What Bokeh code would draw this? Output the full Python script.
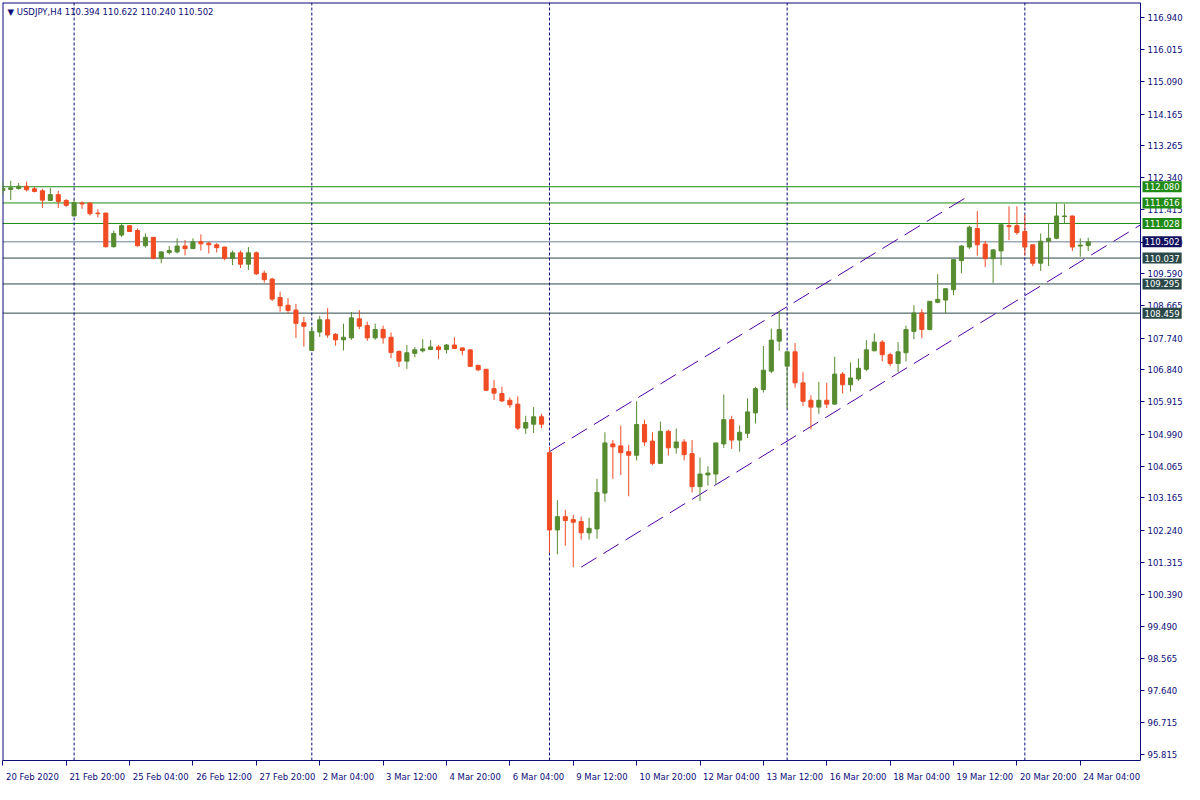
from bokeh.plotting import figure
from bokeh.models import Range1d, FixedTicker, Span, Label, PrintfTickFormatter
from bokeh.embed import file_html
from bokeh.resources import INLINE

symbol = "USDJPY,H4"

opens = [111.975, 112.002, 112.030, 112.095, 112.021, 111.965, 111.688, 111.854, 111.688, 111.243,
         111.613, 111.613, 111.326, 111.326, 110.363, 110.696, 110.965, 110.826, 110.391, 110.631,
         110.029, 110.196, 110.214, 110.381, 110.307, 110.502, 110.465, 110.418, 110.353, 110.029,
         110.187, 109.862, 110.187, 109.603, 109.436, 108.908, 108.685, 108.546, 108.185, 107.389,
         107.917, 108.269, 107.852, 107.694, 107.750, 108.296, 108.102, 107.750, 107.991, 107.768,
         107.361, 107.083, 107.305, 107.379, 107.416, 107.490, 107.416, 107.546, 107.463, 107.407,
         106.962, 106.851, 106.295, 106.156, 105.962, 105.851, 105.165, 105.276, 105.489, 104.461,
         102.247, 102.627, 102.543, 102.488, 102.163, 102.275, 103.303, 104.711, 104.655, 104.489,
         104.387, 105.267, 104.794, 104.155, 105.072, 104.600, 104.767, 104.433, 103.488, 103.822,
         103.849, 104.711, 105.406, 104.822, 105.017, 105.600, 106.268, 106.796, 107.657, 106.940,
         107.351, 106.462, 105.962, 105.767, 105.962, 105.851, 106.712, 106.407, 106.573, 106.851,
         107.379, 107.629, 107.268, 107.018, 107.324, 107.935, 108.463, 107.991, 108.769, 108.834,
         109.131, 109.964, 110.353, 110.882, 110.437, 110.020, 110.242, 110.965, 110.965, 110.798,
         110.418, 109.890, 110.520, 110.604, 111.224, 111.243, 110.381, 110.394]
highs = [112.225, 112.253, 112.188, 112.225, 112.077, 112.021, 112.049, 111.965, 111.725, 111.715,
         111.660, 111.632, 111.437, 111.330, 110.826, 111.020, 110.970, 110.882, 110.742, 110.635,
         110.220, 110.381, 110.604, 110.548, 110.604, 110.715, 110.502, 110.465, 110.360, 110.251,
         110.251, 110.353, 110.224, 109.677, 109.464, 109.075, 108.889, 108.722, 108.352, 108.070,
         108.380, 108.602, 107.889, 108.157, 108.491, 108.546, 108.213, 108.157, 108.102, 107.907,
         107.389, 107.546, 107.490, 107.713, 107.685, 107.546, 107.574, 107.768, 107.470, 107.410,
         106.981, 106.860, 106.545, 106.351, 106.045, 106.073, 105.517, 105.767, 105.573, 104.628,
         103.099, 102.821, 102.682, 102.627, 102.599, 103.710, 105.045, 104.822, 105.239, 104.683,
         105.934, 105.406, 105.045, 105.350, 105.128, 105.156, 104.850, 104.822, 104.322, 104.072,
         104.740, 106.128, 105.517, 105.239, 106.017, 106.350, 107.518, 108.018, 108.519, 107.360,
         107.602, 106.768, 106.101, 106.490, 106.462, 107.212, 106.768, 107.046, 107.157, 107.685,
         107.879, 107.685, 107.324, 107.629, 108.102, 108.685, 108.574, 108.800, 109.575, 109.160,
         110.000, 110.409, 110.965, 111.382, 110.529, 110.298, 111.000, 111.521, 111.521, 111.280,
         110.420, 110.742, 111.020, 111.613, 111.586, 111.250, 110.604, 110.622]
lows = [111.836, 111.697, 111.993, 111.947, 111.919, 111.474, 111.680, 111.474, 111.502, 111.240,
        111.447, 111.252, 111.197, 110.335, 110.335, 110.641, 110.780, 110.363, 110.335, 110.001,
        109.890, 110.140, 110.168, 110.112, 110.300, 110.251, 110.168, 110.196, 109.974, 109.834,
        109.751, 109.696, 109.557, 109.334, 108.806, 108.500, 108.463, 107.750, 107.500, 107.380,
        107.778, 107.750, 107.527, 107.389, 107.694, 108.000, 107.666, 107.694, 107.583, 107.166,
        106.916, 106.860, 107.194, 107.333, 107.410, 107.138, 107.305, 107.440, 107.250, 106.916,
        106.796, 106.240, 105.971, 105.915, 105.749, 105.110, 104.999, 105.026, 105.165, 101.598,
        101.552, 101.793, 101.181, 101.969, 101.969, 101.997, 103.053, 103.710, 103.822, 103.210,
        104.239, 104.655, 104.100, 104.150, 104.378, 104.433, 104.239, 103.321, 103.071, 103.516,
        103.544, 104.600, 104.572, 104.489, 104.878, 105.295, 106.184, 106.740, 107.379, 105.720,
        106.323, 105.795, 105.128, 105.573, 105.740, 105.840, 106.156, 106.212, 106.518, 106.796,
        107.370, 107.074, 106.935, 106.768, 107.074, 107.713, 107.741, 107.963, 108.741, 108.464,
        108.973, 109.603, 110.298, 110.103, 109.779, 109.325, 109.835, 110.548, 110.705, 110.112,
        109.807, 109.668, 109.807, 110.576, 111.020, 110.242, 110.075, 110.240]
closes = [112.030, 112.049, 112.095, 111.993, 111.947, 111.697, 111.854, 111.660, 111.548, 111.623,
          111.586, 111.308, 111.308, 110.363, 110.742, 110.965, 110.798, 110.391, 110.631, 110.029,
          110.214, 110.251, 110.381, 110.307, 110.502, 110.446, 110.418, 110.335, 110.029, 110.187,
          109.862, 110.187, 109.584, 109.418, 108.862, 108.667, 108.537, 108.167, 108.083, 107.935,
          108.269, 107.833, 107.694, 107.768, 108.324, 108.083, 107.750, 107.991, 107.750, 107.333,
          107.083, 107.324, 107.407, 107.435, 107.490, 107.416, 107.546, 107.444, 107.389, 106.935,
          106.833, 106.249, 106.166, 105.943, 105.832, 105.165, 105.323, 105.489, 105.276, 102.247,
          102.627, 102.515, 102.469, 102.163, 102.293, 103.321, 104.739, 104.628, 104.461, 104.387,
          105.267, 104.767, 104.155, 105.072, 104.600, 104.767, 104.405, 103.488, 103.849, 103.877,
          104.739, 105.406, 104.822, 105.045, 105.628, 106.295, 106.823, 107.685, 107.991, 107.351,
          106.462, 105.934, 105.767, 105.962, 105.851, 106.712, 106.407, 106.601, 106.879, 107.407,
          107.629, 107.268, 107.018, 107.351, 107.991, 108.463, 107.991, 108.797, 108.853, 109.158,
          109.992, 110.381, 110.919, 110.418, 110.020, 110.270, 110.993, 110.937, 110.770, 110.353,
          109.890, 110.520, 110.604, 111.243, 111.243, 110.353, 110.409, 110.502]

x_label_bars = [0, 8, 16, 24, 32, 40, 48, 56, 64, 72, 80, 88, 96, 104, 112, 120, 128, 136]
x_labels = ["20 Feb 2020", "21 Feb 20:00", "25 Feb 04:00", "26 Feb 12:00", "27 Feb 20:00",
            "2 Mar 04:00", "3 Mar 12:00", "4 Mar 20:00", "6 Mar 04:00", "9 Mar 12:00",
            "10 Mar 20:00", "12 Mar 04:00", "13 Mar 12:00", "16 Mar 20:00", "18 Mar 04:00",
            "19 Mar 12:00", "20 Mar 20:00", "24 Mar 04:00"]
week_start_bars = [9, 39, 69, 99, 129]

y_ticks = [116.940, 116.015, 115.090, 114.165, 113.265, 112.340, 111.415, 110.490, 109.590,
           108.665, 107.740, 106.840, 105.915, 104.990, 104.065, 103.165, 102.240, 101.315,
           100.390, 99.490, 98.565, 97.640, 96.715, 95.815]

resistance_levels = [112.080, 111.616, 111.028]
support_levels = [110.037, 109.295, 108.459]
bid_price = 110.502

upper_channel_bars = [69, 122]
upper_channel_prices = [104.49, 111.83]
lower_channel_bars = [73, 129]
lower_channel_prices = [101.18, 108.96]

# ---------------- styling ----------------
FONT = "DejaVu Sans"
FS = "8.5px"
NAVY = "#0c0c78"
BULL = "#568b2f"
BEAR = "#f04b23"
RES_COL = "#1f8a14"
SUP_COL = "#2a4848"
BID_COL = "#6a7f94"
BID_BOX = "#10105e"
CHAN_COL = "#5000a8"

W, H = 1184, 784
BL, BT, BR = 2, 2, 0
PLOT_PX = 1138          # width of the chart area (left of the price scale)
X_START, X_PLOT_END = -0.04, 143.6
px_per_bar = PLOT_PX / (X_PLOT_END - X_START)
X_FULL_END = X_PLOT_END + (W - BL - BR - PLOT_PX) / px_per_bar
Y_START, Y_END = 95.64, 117.36

n = len(opens)
idx = list(range(n))
colors = [BULL if c >= o else BEAR for o, c in zip(opens, closes)]
tops = [max(o, c) for o, c in zip(opens, closes)]
bots = [min(o, c) for o, c in zip(opens, closes)]

p = figure(width=W, height=H, output_backend="svg", toolbar_location=None,
           x_range=Range1d(X_START, X_FULL_END), y_range=Range1d(Y_START, Y_END),
           y_axis_location="right", min_border_left=BL, min_border_top=BT,
           min_border_right=BR, min_border_bottom=0)
p.grid.visible = False
p.outline_line_color = None
p.background_fill_color = "white"
p.border_fill_color = "white"

# week separators
for b in week_start_bars:
    p.add_layout(Span(location=b, dimension="height", line_color=NAVY,
                      line_dash="3 2", line_width=1, level="underlay"))
# chart-area border (left, top)
p.segment(x0=[X_START, X_START], y0=[Y_START, Y_END], x1=[X_START, X_PLOT_END], y1=[Y_END, Y_END],
          line_color=NAVY, line_width=2)
# horizontal levels
lv_all = resistance_levels + support_levels + [bid_price]
lv_cols = [RES_COL] * len(resistance_levels) + [SUP_COL] * len(support_levels) + [BID_COL]
p.segment(x0=[X_START] * len(lv_all), y0=lv_all, x1=[X_PLOT_END] * len(lv_all), y1=lv_all,
          line_color=lv_cols, line_width=1, level="underlay")

# channel
p.line(upper_channel_bars, upper_channel_prices, line_color=CHAN_COL, line_width=1, line_dash="18 8")
slope = (lower_channel_prices[1] - lower_channel_prices[0]) / (lower_channel_bars[1] - lower_channel_bars[0])
low_end = lower_channel_prices[0] + slope * (X_PLOT_END - lower_channel_bars[0])
p.line([lower_channel_bars[0], X_PLOT_END], [lower_channel_prices[0], low_end],
       line_color=CHAN_COL, line_width=1, line_dash="18 8")

# candles
p.segment(x0=idx, y0=lows, x1=idx, y1=highs, line_color=colors, line_width=1)
p.vbar(x=idx, width=0.52, top=tops, bottom=bots, fill_color=colors, line_color=colors, line_width=1)

# price scale, drawn at the right edge of the chart area
ax = p.yaxis[0]
ax.fixed_location = X_PLOT_END
ax.ticker = FixedTicker(ticks=y_ticks)
ax.formatter = PrintfTickFormatter(format="%.3f")
ax.major_tick_out = 4
ax.major_tick_in = 0
ax.minor_tick_out = 0
ax.minor_tick_in = 0
ax.major_tick_line_color = NAVY
ax.axis_line_color = NAVY
ax.major_label_text_color = NAVY
ax.major_label_text_font = FONT
ax.major_label_text_font_size = FS
ax.major_label_standoff = 3

# time scale: labels left-aligned after their tick (minor ticks mark the true bar)
widths = {"0": .636, "1": .636, "2": .636, "3": .636, "4": .636, "5": .636, "6": .636, "7": .636,
          "8": .636, "9": .636, " ": .318, ":": .337, "F": .575, "e": .615, "b": .635, "M": .863,
          "a": .613, "r": .411}
fs_px = 8.5
centers = []
overrides = {}
for b, t in zip(x_label_bars, x_labels):
    wpx = sum(widths.get(ch, 0.6) for ch in t) * fs_px
    c = round(b + (wpx / 2 + 3) / px_per_bar, 4)
    centers.append(c)
    overrides[c] = t
bx = p.xaxis[0]
bx.bounds = (X_START, X_PLOT_END)
bx.ticker = FixedTicker(ticks=centers, minor_ticks=x_label_bars)
bx.major_label_overrides = overrides
bx.major_tick_out = 0
bx.major_tick_in = 0
bx.minor_tick_out = 5
bx.minor_tick_in = 0
bx.minor_tick_line_color = NAVY
bx.axis_line_color = NAVY
bx.major_label_text_color = NAVY
bx.major_label_text_font = FONT
bx.major_label_text_font_size = FS
bx.major_label_standoff = 6

# price boxes on the scale
for v, col in zip(resistance_levels + support_levels + [bid_price],
                  [RES_COL] * len(resistance_levels) + [SUP_COL] * len(support_levels) + [BID_BOX]):
    p.add_layout(Label(x=X_PLOT_END, y=v, x_offset=2, text=f"{v:.3f}", text_color="white",
                       text_font=FONT, text_font_size=FS, text_baseline="middle",
                       text_align="left", background_fill_color=col, padding=2))

header = f"\u25BC {symbol}  {opens[-1]:.3f} {highs[-1]:.3f} {lows[-1]:.3f} {closes[-1]:.3f}"
p.add_layout(Label(x=X_START, y=Y_END, x_offset=5, y_offset=-4, text=header,
                   text_color=NAVY, text_font=FONT, text_font_size=FS, text_baseline="top"))

open("out.html", "w").write(file_html(p, INLINE))
